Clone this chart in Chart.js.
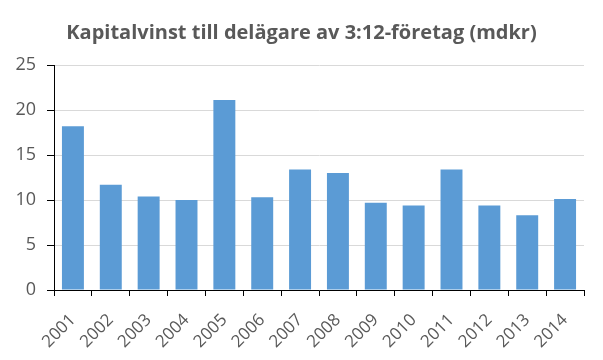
<!DOCTYPE html>
<html>
<head>
<meta charset="utf-8">
<script src="https://cdn.jsdelivr.net/npm/chart.js@4/dist/chart.umd.min.js"></script>
<style>
  html, body { margin: 0; padding: 0; background: #fff; }
  #wrap { width: 603px; height: 360px; }
</style>
</head>
<body>
<div id="wrap"><canvas id="chart" width="603" height="360"></canvas></div>
<script>
const years = ['2001', '2002', '2003', '2004', '2005', '2006', '2007', '2008', '2009', '2010', '2011', '2012', '2013', '2014'];
const gains = [18.2, 11.7, 10.4, 10.0, 21.1, 10.3, 13.4, 13.0, 9.7, 9.4, 13.4, 9.4, 8.3, 10.1];
const yTicks = [0, 5, 10, 15, 20, 25];
const titleText = 'Kapitalvinst till delägare av 3:12-företag (mdkr)';

const grey = '#595959';

// title centred on the whole canvas, not just the padded box
const titlePlugin = {
    id: 'canvasTitle',
    afterDraw(chart) {
        const ctx = chart.ctx;
        ctx.save();
        ctx.font = 'bold 20px "Open Sans"';
        ctx.fillStyle = grey;
        ctx.textAlign = 'center';
        ctx.textBaseline = 'middle';
        ctx.fillText(titleText, chart.width / 2, 33);
        ctx.restore();
    }
};

new Chart(document.getElementById('chart'), {
    type: 'bar',
    data: {
        labels: years,
        datasets: [{
            data: gains,
            backgroundColor: '#5B9BD5',
            categoryPercentage: 1,
            barPercentage: 0.58
        }]
    },
    options: {
        responsive: false,
        animation: false,
        layout: { padding: { left: 0, right: 19, top: 65, bottom: 0 } },
        plugins: {
            legend: { display: false },
            tooltip: { enabled: false },
            title: { display: false }
        },
        scales: {
            y: {
                min: 0,
                max: 25,
                afterBuildTicks: scale => { scale.ticks = yTicks.map(v => ({ value: v })); },
                afterFit: scale => { scale.width = 54; },
                border: { color: '#000', width: 1 },
                grid: { color: '#d9d9d9', tickColor: '#000', tickLength: 7 },
                ticks: { color: grey, padding: 11, font: { family: 'Open Sans', size: 18 } }
            },
            x: {
                afterFit: scale => { scale.height = 70; },
                border: { color: '#000', width: 1 },
                grid: { drawOnChartArea: false, tickColor: '#000', tickLength: 6, offset: true },
                ticks: {
                    color: grey,
                    minRotation: 45,
                    maxRotation: 45,
                    padding: 14,
                    font: { family: 'Open Sans', size: 17 }
                }
            }
        }
    },
    plugins: [titlePlugin]
});
</script>
</body>
</html>
